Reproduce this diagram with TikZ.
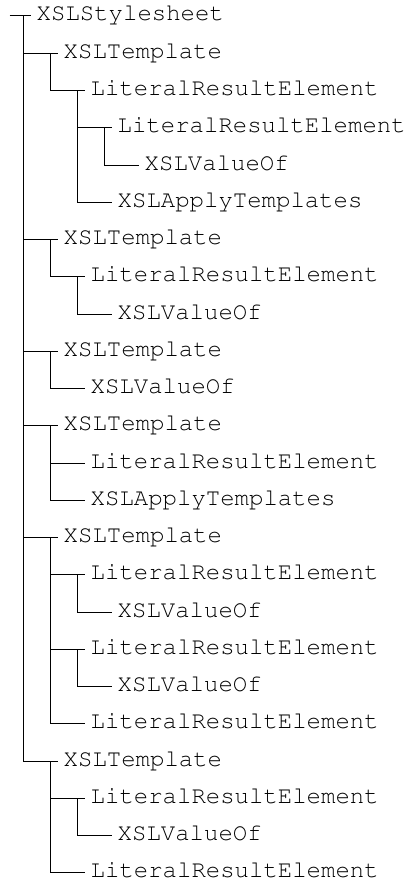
\documentclass[tikz,border=0pt]{standalone}
\usepackage[T1]{fontenc}
\usetikzlibrary{positioning}
\newcommand\courfont{\fontencoding{T1}\fontfamily{pcr}\selectfont}

\begin{document}
\begin{tikzpicture}[
    x=1pt, y=1pt,
    font=\courfont\fontsize{24}{28}\selectfont,
    item/.style={
        anchor=west, inner sep=0pt, text height=13pt, text depth=3pt
    },
    branch/.style={
        line width=1pt, draw=black
    },
]

\useasboundingbox (0,0) rectangle (406,-888);

% ============================================================
% Nodes: row / depth / name
% ============================================================

\foreach \i/\lvl/\txt in {
    0/0/XSLStylesheet,
    1/1/XSLTemplate,
    2/2/LiteralResultElement,
    3/3/LiteralResultElement,
    4/4/XSLValueOf,
    5/3/XSLApplyTemplates,
    6/1/XSLTemplate,
    7/2/LiteralResultElement,
    8/3/XSLValueOf,
    9/1/XSLTemplate,
    10/2/XSLValueOf,
    11/1/XSLTemplate,
    12/2/LiteralResultElement,
    13/2/XSLApplyTemplates,
    14/1/XSLTemplate,
    15/2/LiteralResultElement,
    16/3/XSLValueOf,
    17/2/LiteralResultElement,
    18/3/XSLValueOf,
    19/2/LiteralResultElement,
    20/1/XSLTemplate,
    21/2/LiteralResultElement,
    22/3/XSLValueOf,
    23/2/LiteralResultElement}
    \node[item] (n\i) at ({36.5+27*\lvl}, {-16-37.25*\i}) {\txt};

% ============================================================
% Connectors
% ============================================================

% root stub
\draw[branch] ([xshift=-27pt]n0.west) -- ([xshift=-6pt]n0.west);

% parent -> child (vertical from parent, then across to child)
\foreach \p/\c in {0/1, 0/6, 0/9, 0/11, 0/14, 0/20,
                   1/2, 2/3, 2/5, 3/4,
                   6/7, 7/8,
                   9/10,
                   11/12, 11/13,
                   14/15, 14/17, 14/19, 15/16, 17/18,
                   20/21, 20/23, 21/22}
    \draw[branch] ([xshift=-13pt]n\p.west) |- ([xshift=-6pt]n\c.west);

\end{tikzpicture}
\end{document}
